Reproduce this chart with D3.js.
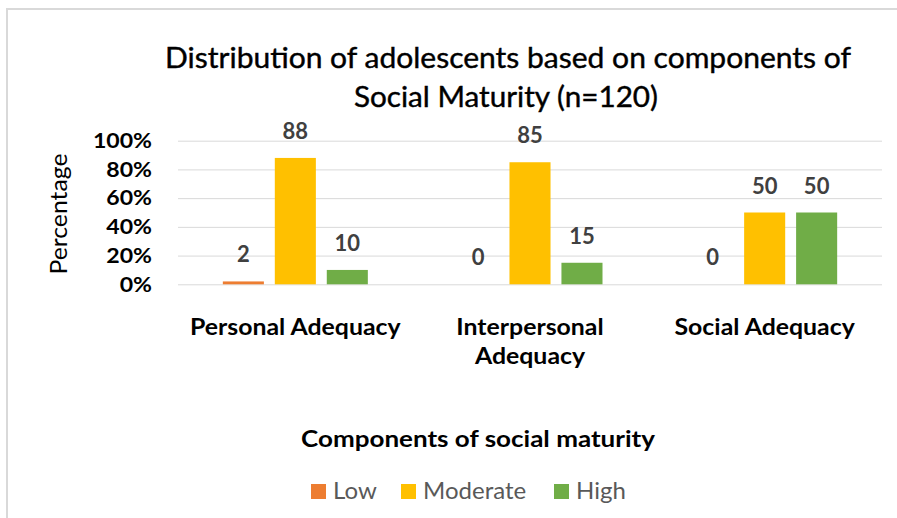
<!DOCTYPE html>
<html>
<head>
<meta charset="utf-8">
<script src="https://cdn.jsdelivr.net/npm/d3@7"></script>
<style>
  body { margin: 0; background: #fff; }
  svg { display: block; font-family: Lato, "Open Sans", sans-serif; }
</style>
</head>
<body>
<div id="chart"></div>
<script>
var categories = ["Personal Adequacy", "Interpersonal Adequacy", "Social Adequacy"];
var categoryLines = [["Personal Adequacy"], ["Interpersonal", "Adequacy"], ["Social Adequacy"]];
var series = ["Low", "Moderate", "High"];
var low = [2, 0, 0];
var moderate = [88, 85, 50];
var high = [10, 15, 50];
var yTicks = [0, 20, 40, 60, 80, 100];
var colors = ["#ED7D31", "#FFC000", "#70AD47"];

var width = 897, height = 518;
var plot_left = 178, plot_right = 882, plot_top = 140.7, plot_bottom = 284.3;

// stretch a text to a given width (Calibri is wider than Lato at equal height)
function fit(sel, w) {
  sel.attr("textLength", w).attr("lengthAdjust", "spacingAndGlyphs");
  return sel;
}

var svg = d3.select("#chart").append("svg")
  .attr("width", width)
  .attr("height", height);

// outer frame (only top/left edges fall inside the picture)
svg.append("rect")
  .attr("x", 7).attr("y", 9)
  .attr("width", 1000).attr("height", 600)
  .attr("fill", "none")
  .attr("stroke", "#d9d9d9")
  .attr("stroke-width", 2);

/* Scales */
var x0 = d3.scaleBand()
  .domain(categories)
  .range([plot_left, plot_right])
  .padding(0);

var groupWidth = 145;
var x1 = d3.scaleBand()
  .domain(series)
  .range([0, groupWidth])
  .paddingInner(0.21);

var y = d3.scaleLinear()
  .domain([0, 100])
  .range([plot_bottom, plot_top]);

var color = d3.scaleOrdinal().domain(series).range(colors);

var data = categories.map(function(c, i) {
  return { category: c, values: [
    { key: "Low", value: low[i] },
    { key: "Moderate", value: moderate[i] },
    { key: "High", value: high[i] }
  ]};
});

/* Gridlines + y axis */
var yAxis = d3.axisLeft(y)
  .tickValues(yTicks)
  .tickSize(-(plot_right - plot_left))
  .tickPadding(26)
  .tickFormat(d => d + "%");

var gy = svg.append("g")
  .attr("transform", `translate(${plot_left},0)`)
  .call(yAxis);
gy.select(".domain").remove();
gy.selectAll(".tick line")
  .attr("stroke", "#d9d9d9")
  .attr("stroke-width", 1);
gy.selectAll(".tick text")
  .attr("font-family", "Lato, sans-serif")
  .attr("font-size", 21)
  .attr("font-weight", "bold")
  .attr("fill", "#000")
  .each(function(d) {
    var s = d3.select(this);
    s.attr("textLength", this.getComputedTextLength() * 1.1)
     .attr("lengthAdjust", "spacingAndGlyphs");
  });

/* Bars */
var offset = (x0.bandwidth() - groupWidth) / 2;
var groups = svg.append("g").selectAll("g")
  .data(data).enter()
  .append("g")
  .attr("transform", d => `translate(${x0(d.category) + offset},0)`);

groups.selectAll("rect")
  .data(d => d.values).enter()
  .append("rect")
  .attr("x", d => x1(d.key))
  .attr("width", x1.bandwidth())
  .attr("y", d => y(d.value))
  .attr("height", d => y(0) - y(d.value))
  .attr("fill", d => color(d.key));

groups.selectAll("text")
  .data(d => d.values).enter()
  .append("text")
  .attr("x", d => x1(d.key) + x1.bandwidth() / 2)
  .attr("y", d => y(d.value) - 19)
  .attr("text-anchor", "middle")
  .attr("font-size", 22)
  .attr("font-weight", "bold")
  .attr("fill", "#404040")
  .text(d => d.value);

/* Category labels */
categories.forEach(function(c, i) {
  var cx = x0(c) + x0.bandwidth() / 2;
  categoryLines[i].forEach(function(line, j) {
    var t = svg.append("text")
      .attr("x", cx)
      .attr("y", 335 + j * 29)
      .attr("text-anchor", "middle")
      .attr("font-size", 23)
      .attr("font-weight", "bold")
      .attr("fill", "#000")
      .text(line);
    fit(t, t.node().getComputedTextLength() * 1.08);
  });
});

/* Title */
fit(svg.append("text")
  .attr("x", 508).attr("y", 68)
  .attr("text-anchor", "middle")
  .attr("font-size", 28)
  .attr("fill", "#000")
  .attr("stroke", "#000").attr("stroke-width", 0.4)
  .text("Distribution of adolescents based on components of"), 686);

fit(svg.append("text")
  .attr("x", 506).attr("y", 107)
  .attr("text-anchor", "middle")
  .attr("font-size", 28)
  .attr("fill", "#000")
  .attr("stroke", "#000").attr("stroke-width", 0.4)
  .text("Social Maturity (n=120)"), 304);

/* Axis titles */
fit(svg.append("text")
  .attr("transform", "rotate(-90)")
  .attr("x", -214)
  .attr("y", 66.5)
  .attr("text-anchor", "middle")
  .attr("font-size", 23)
  .attr("fill", "#000")
  .text("Percentage"), 121);

fit(svg.append("text")
  .attr("x", 478)
  .attr("y", 446.5)
  .attr("text-anchor", "middle")
  .attr("font-size", 23)
  .attr("font-weight", "bold")
  .attr("fill", "#000")
  .text("Components of social maturity"), 354);

/* Legend */
var legendX = [311, 401, 554];
var legend = svg.append("g").selectAll("g")
  .data(series).enter()
  .append("g")
  .attr("transform", (d, i) => `translate(${legendX[i]},484)`);

legend.append("rect")
  .attr("width", 15).attr("height", 15)
  .attr("fill", d => color(d));

legend.append("text")
  .attr("x", 22)
  .attr("y", 15)
  .attr("font-size", 24)
  .attr("fill", "#595959")
  .text(d => d);
</script>
</body>
</html>
